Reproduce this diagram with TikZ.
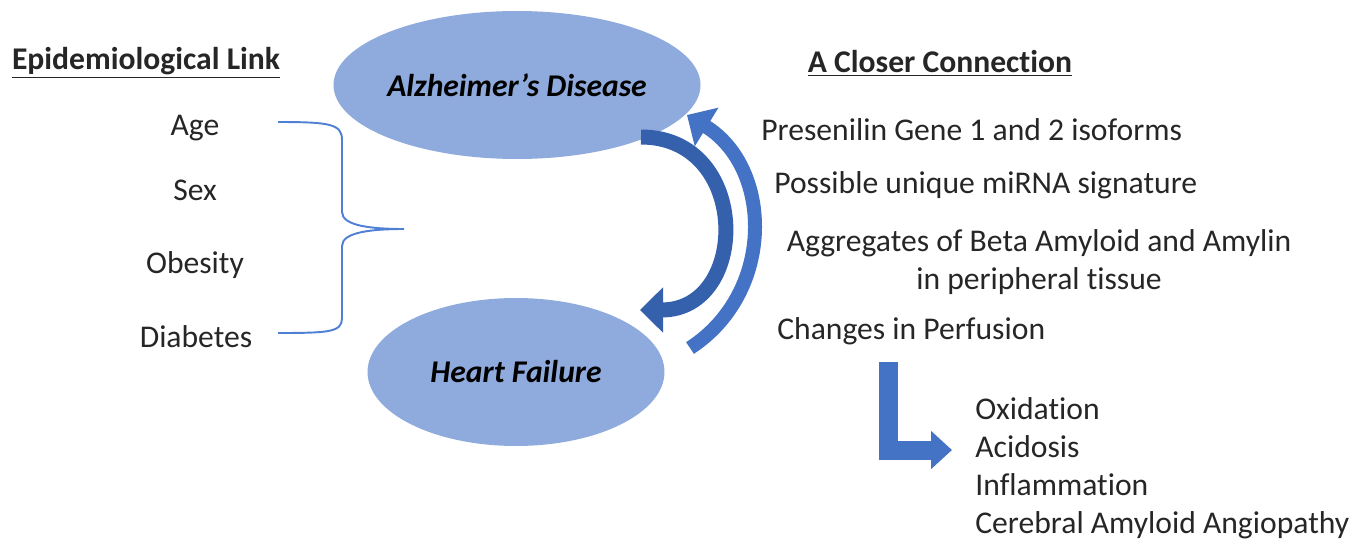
\documentclass[tikz,border=0pt]{standalone}
\usepackage{fontspec}
\setmainfont{Carlito}[Ligatures={NoCommon}]
\usetikzlibrary{shapes.geometric,arrows.meta}
\definecolor{ellfill}{HTML}{8FAADC}
\definecolor{arrdark}{HTML}{3560AC}
\definecolor{arrblue}{HTML}{4472C4}
\definecolor{bracecol}{HTML}{4F80D4}
\definecolor{txt}{HTML}{262626}

\begin{document}
\begin{tikzpicture}[x=0.02cm,y=-0.02cm,
    every node/.style={font=\fontsize{18}{21.6}\selectfont, text=txt, inner sep=0pt},
    disease/.style={ellipse, fill=ellfill, minimum width=5.94cm, minimum height=2.96cm,
      font=\fontsize{18}{21.6}\selectfont\bfseries\itshape, text=black},
    curvearrow/.style={arrdark, line width=0.3cm, -{Triangle[length=0.46cm,width=0.88cm]}},
    bentarrow/.style={arrblue, line width=0.38cm, line join=miter, -{Triangle[length=0.42cm,width=0.74cm]}},
    bracket/.style={bracecol, line width=1.1pt}]
      \useasboundingbox (0,0) rectangle (1371,544);

      % the two diseases
      \node[disease] (ad) at (517,85)  {Alzheimer’s Disease};
      \node[disease] (hf) at (516,372) {Heart Failure};

      % epidemiological link
      \node (epi) at (146,63) {\textbf{\underline{Epidemiological Link}}};
      \node (age) at (195,128) {Age};
      \node (sex) at (195,190) {Sex};
      \node (obe) at (195,265) {Obesity};
      \node (dia) at (196,337) {Diabetes};
      \draw[bracket] (278,122) .. controls (330,122) and (342,124) .. (342,140) -- (342,212)
        .. controls (342,226) and (372,229) .. (404,229)
        .. controls (372,229) and (342,232) .. (342,246) -- (342,318)
        .. controls (342,332) and (330,333) .. (278,333);

      % closer connection
      \node (cc) at (940,63) {\textbf{\underline{A Closer Connection}}};
      \node[anchor=west] (pres) at (761,130) {Presenilin Gene 1 and 2 isoforms};
      \node[anchor=west] (mirna) at (774,185) {Possible unique miRNA signature};
      \node[align=center] (aggr) at (1039,262) {Aggregates of Beta Amyloid and Amylin\\in peripheral tissue};
      \node[anchor=west] (perf) at (777,331) {Changes in Perfusion};
      \node[anchor=west, align=left] (cons) at (975,468)
        {Oxidation\\Acidosis\\Inflammation\\Cerebral Amyloid Angiopathy};

      % arrows between the diseases
      \coordinate (in1) at (641,137);
      \coordinate (in2) at (640,310);
      \coordinate (out1) at (690,348);
      \coordinate (out2) at (687,115);
      \draw[curvearrow] (in1) .. controls +(110,0) and +(110,0) .. (in2);
      \draw[curvearrow, arrblue, line width=0.28cm] (out1) .. controls (776,292) and (772,167) .. (out2);

      % perfusion consequences
      \coordinate (l1) at (888,362);
      \coordinate (l2) at (952,450);
      \draw[bentarrow] (l1) |- (l2);
    \end{tikzpicture}
\end{document}
